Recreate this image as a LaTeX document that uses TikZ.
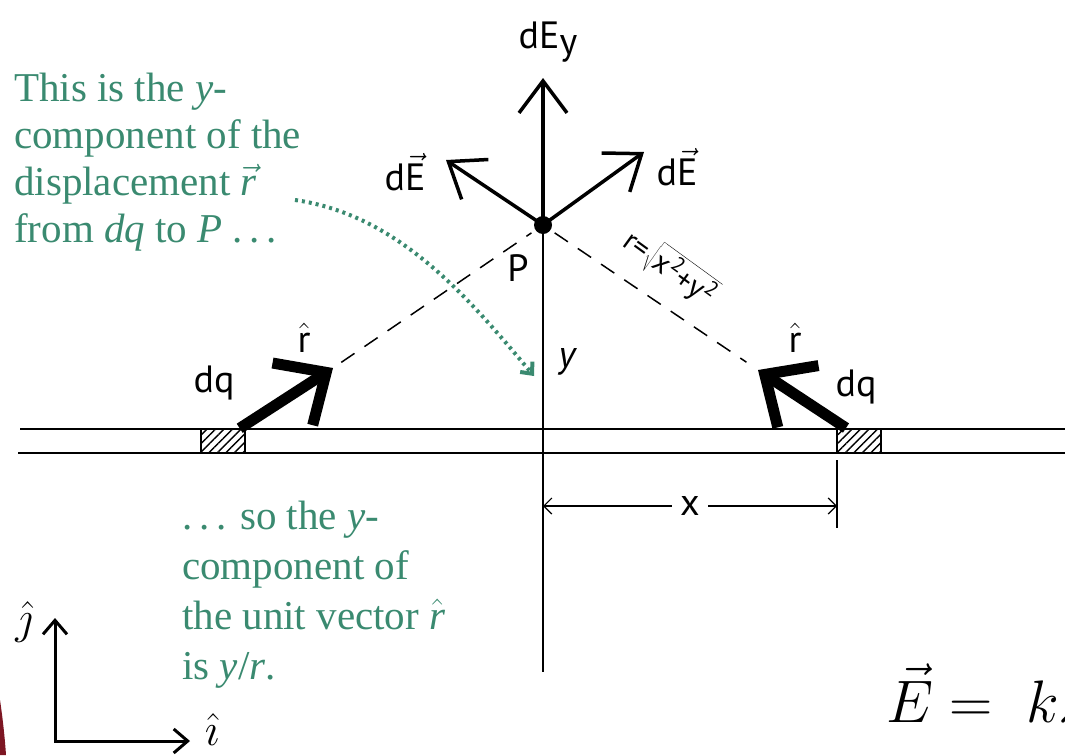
\documentclass[tikz,border=0pt]{standalone}
\usepackage{fix-cm}
\usepackage{fontspec}
\setmainfont{Liberation Serif}
\newfontfamily\hand{PT Sans}
\usetikzlibrary{arrows.meta,positioning,patterns.meta}
\definecolor{notegreen}{RGB}{58,138,112}
\definecolor{edgered}{RGB}{125,22,35}

\begin{document}
\begin{tikzpicture}[x=1pt, y=-1pt,
  note/.style={text=notegreen, font=\fontsize{41}{47}\selectfont, align=left, inner sep=0pt},
  lbl/.style={font=\hand\fontsize{38}{40}\selectfont, inner sep=0pt},
  vec/.style={line width=3.5pt, -{Straight Barb[length=32pt, width=48pt]}},
  unitvec/.style={line width=11pt, -{Straight Barb[length=40pt, width=74pt]}},
  rod/.style={line width=2.5pt},
  axisline/.style={line width=1.2pt},
  ray/.style={line width=1.5pt, dash pattern=on 16pt off 12pt},
  seg/.style={draw, line width=2pt, minimum width=44pt, minimum height=24pt, inner sep=0pt,
    pattern={Lines[angle=45, distance=6pt, line width=1.4pt]}},
  dim/.style={line width=1.2pt, {Straight Barb[length=8pt, width=16pt]}-{Straight Barb[length=8pt, width=16pt]}},
  hint/.style={notegreen, line width=4pt, dash pattern=on 3pt off 4pt, -{Straight Barb[length=9pt, width=16pt]}}
]
  \useasboundingbox (0,0) rectangle (1065,755);

  % rod with the two charge elements
  \coordinate (rodTL) at (20,429);   \coordinate (rodTR) at (1065,429);
  \coordinate (rodBL) at (18,453);   \coordinate (rodBR) at (1065,453);
  \draw[rod] (rodTL) -- (rodTR);
  \draw[rod] (rodBL) -- (rodBR);
  \node[seg, fill=white] (segl) at (223,441) {};
  \node[seg, fill=white] (segr) at (859,441) {};
  \node[seg] at (223,441) {};
  \node[seg] at (859,441) {};

  % point P and the field vectors
  \node[circle, fill, inner sep=0pt, minimum size=18pt] (p) at (543,225) {};
  \coordinate (ybot) at (543,672);
  \draw[axisline] (p.center) -- (ybot);
  \coordinate (eytip) at (543,78);
  \coordinate (eltip) at (446,160);
  \coordinate (ertip) at (644,152);
  \draw[vec] (p.center) -- (eytip);
  \draw[vec] (p.center) -- (eltip);
  \draw[vec] (p.center) -- (ertip);
  \node[lbl] (dEy) at (548,42) {dE\raisebox{-0.35ex}{y}};
  \node[lbl] (dEl) at (405,172) {d$\vec{\hbox{E}}$};
  \node[lbl] (dEr) at (677,167) {d$\vec{\hbox{E}}$};
  \node[lbl] (plbl) at (518,268) {P};
  \node[lbl, font=\hand\itshape\fontsize{38}{40}\selectfont] (ylbl) at (567,362) {y};

  % unit vectors from dq
  \coordinate (rltip) at (333,368);
  \coordinate (rrtip) at (758,370);
  \draw[unitvec] (segl.north east) ++(-6,0) coordinate (rlfoot) -- (rltip);
  \draw[unitvec] (segr.north west) ++(10,0) coordinate (rrfoot) -- (rrtip);
  \draw[ray, shorten <=10pt, shorten >=14pt] (rltip) -- (p.center);
  \draw[ray, shorten <=14pt, shorten >=14pt] (p.center) -- (rrtip);
  \node[lbl] (rhl) at (304,338) {$\hat{\hbox{r}}$};
  \node[lbl] (rhr) at (795,338) {$\hat{\hbox{r}}$};
  \node[lbl] (dql) at (214,383) {dq};
  \node[lbl] (dqr) at (856,387) {dq};
  \node[lbl, rotate=-36, font=\hand\fontsize{30}{32}\selectfont] (rlen) at (670,268)
    {r=$\sqrt{\hbox{x\textsuperscript{2}+y\textsuperscript{2}}}$};

  % distance x
  \coordinate (xt1) at (837,460);
  \coordinate (xt2) at (837,528);
  \draw[axisline] (xt1) -- (xt2);
  \coordinate (dimL) at (543,506);
  \coordinate (dimR) at (837,506);
  \draw[dim] (dimL) -- node[lbl, fill=white, inner xsep=8pt] (xlbl) {x} (dimR);

  % notes
  \node[note, anchor=north west] (topnote) at (14,73)
    {This is the \textit{y}-\\component of the\\displacement $\vec{\textit{r}}$\\from \textit{dq} to \textit{P} .\,.\,.};
  \node[note, anchor=north west, font=\fontsize{41}{50}\selectfont] (botnote) at (182,501)
    {.\,.\,. so the \textit{y}-\\component of\\the unit vector $\hat{\textit{r}}$\\is \textit{y}/\textit{r}.};
  \coordinate (dotfrom) at (295,200);
  \coordinate (dotto) at (534,376);
  \draw[hint] (dotfrom) .. controls (400,215) and (470,300) .. (dotto);

  % unit axes
  \coordinate (o) at (55,741);
  \coordinate (jtip) at (55,618);
  \coordinate (itip) at (190,741);
  \draw[line width=3pt, {Straight Barb[length=14pt, width=24pt]}-{Straight Barb[length=14pt, width=24pt]}] (jtip) -- (o) -- (itip);
  \node[font=\fontsize{46}{48}\selectfont] (jhat) at (24,622) {$\hat{\jmath}$};
  \node[font=\fontsize{46}{48}\selectfont] (ihat) at (212,730) {$\hat{\imath}$};

  \node[anchor=base west, inner sep=0pt, font=\fontsize{60}{62}\selectfont] (field) at (886,722) {$\vec{E} = \;k\lambda$};
  \fill[edgered] (0,700) .. controls (3,720) and (5,740) .. (6,755) -- (0,755) -- cycle;
\end{tikzpicture}
\end{document}
